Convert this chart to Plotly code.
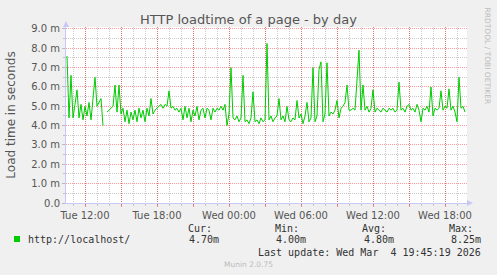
import pandas as pd
import plotly.graph_objects as go

# ---- data (10-minute samples, seconds*1000 shown as "m") ----
start_time = "2026-03-03 10:30"
load_ms = [
    7.6, 4.4, 6.6, 4.4, 5.1, 5.85,
    4.4, 5.1, 4.3, 5.0, 4.5, 5.2,
    4.3, 5.3, 6.5, 5.0, 5.2, 5.4,
    4.0, None, 4.7, 4.8, 4.9, 5.0,
    6.1, 4.7, 6.1, 4.6, 4.9, 4.2,
    4.8, 4.1, 4.7, 4.3, 4.8, 4.2,
    4.9, 4.4, 4.8, 4.2, 4.9, 4.5,
    5.4, 4.6, 4.8, 4.9, 5.0, 5.1,
    4.9, 5.1, 5.0, 5.8, 4.9, 5.0,
    4.8, 4.9, 4.7, 4.9, 4.3, 5.0,
    4.4, 4.9, 4.2, 4.8, 4.5, 5.0,
    4.3, 4.8, 4.9, 4.4, 4.9, 4.8,
    4.3, 4.9, 4.7, 4.9, 4.8, 5.0,
    4.8, 5.1, 4.0, 4.6, 7.0, 4.4,
    4.3, 4.5, 4.2, 4.4, 6.6, 4.2,
    4.3, 4.1, 4.4, 5.75, 4.2, 4.3,
    4.1, 4.4, 4.2, 4.3, 8.25, 4.3,
    4.5, 4.2, 4.4, 4.5, 5.4, 4.3,
    4.5, 4.2, 5.0, 4.3, 4.2, 4.4,
    4.3, 5.3, 4.4, 4.6, 4.1, 4.5,
    5.2, 4.2, 4.4, 7.0, 4.2, 4.5,
    6.9, 7.3, 4.2, 4.6, 7.25, 4.5,
    4.7, 4.6, 4.8, 5.3, 4.4, 4.9,
    5.0, 5.2, 6.1, 4.8, 4.8, 4.9,
    4.8, 6.6, 7.9, 4.8, 6.1, 4.8,
    5.0, 4.7, 4.9, 5.85, 4.7, 4.9,
    4.8, 4.7, 4.9, 4.8, 4.7, 4.9,
    4.8, 4.9, 4.7, 4.8, 6.25, 4.8,
    4.9, 4.7, 5.0, 5.1, 4.8, 4.9,
    4.7, 5.1, 4.8, 4.2, 4.9, 4.8,
    5.0, 4.7, 6.0, 4.5, 4.9, 4.8,
    4.9, 5.8, 4.8, 5.0, 4.9, 5.9,
    4.8, 5.0, 4.7, 4.2, 6.5, 4.9,
    5.0, 4.7,
]
times = pd.date_range(start_time, periods=len(load_ms), freq="10min")

y_tickvals = [0, 1, 2, 3, 4, 5, 6, 7, 8, 9]
y_ticktext = ["0.0", "1.0 m", "2.0 m", "3.0 m", "4.0 m", "5.0 m", "6.0 m", "7.0 m", "8.0 m", "9.0 m"]
x_tickvals = pd.date_range("2026-03-03 12:00", "2026-03-04 18:00", freq="3h")
x_ticktext = [t.strftime("%a %H:%M") if t.hour % 6 == 0 else "" for t in x_tickvals]

series_name = "http://localhost/"
stat_heads = ["Cur:", "Min:", "Avg:", "Max:"]
stat_vals = ["4.70m", "4.00m", "4.80m", "8.25m"]

# ---- layout geometry (pixels) ----
W, H = 497, 275
L, R, T, B = 66, 467, 27, 203


def pxx(x):
    return (x - L) / (R - L)


def pxy(y):
    return (B - y) / (B - T)


GREEN = "#00CC00"
TXT = "#555555"
MONO = "DejaVu Sans Mono"
SANS = "DejaVu Sans"

fig = go.Figure()
fig.add_trace(go.Scatter(x=times, y=load_ms, mode="lines",
                         line=dict(color=GREEN, width=1), connectgaps=False,
                         showlegend=False, hoverinfo="skip"))

fig.update_layout(
    width=W, height=H,
    margin=dict(l=L, r=W - R, t=T, b=H - B),
    paper_bgcolor="#F0F0F0", plot_bgcolor="#FFFFFF",
    font=dict(family=SANS, size=10, color=TXT),
    showlegend=False,
)

fig.update_xaxes(
    range=[pd.Timestamp("2026-03-03 10:25"), pd.Timestamp("2026-03-04 19:50")],
    tickmode="array", tickvals=x_tickvals, ticktext=x_ticktext,
    showgrid=True, gridcolor="rgba(255,0,0,0.4)", griddash="1px,1px", gridwidth=1,
    ticks="outside", ticklen=3, tickcolor="rgba(255,0,0,0.4)",
    minor=dict(tickmode="linear", tick0="2026-03-03 11:00", dtick=3600000,
               showgrid=True, gridcolor="rgba(150,150,150,0.5)", griddash="1px,1px",
               ticks="outside", ticklen=2, tickcolor="rgba(150,150,150,0.5)"),
    showline=True, linecolor="#C8C8F8", linewidth=1,
    zeroline=False, tickfont=dict(size=10, color=TXT),
    ticklabelstandoff=0,
)
fig.update_yaxes(
    range=[0, 9.1],
    tickmode="array", tickvals=y_tickvals, ticktext=y_ticktext,
    showgrid=True, gridcolor="rgba(255,0,0,0.4)", griddash="1px,1px", gridwidth=1,
    ticks="outside", ticklen=3, tickcolor="rgba(150,150,150,0.6)",
    minor=dict(tickmode="linear", tick0=0.5, dtick=1,
               showgrid=True, gridcolor="rgba(150,150,150,0.5)", griddash="1px,1px",
               ticks="outside", ticklen=2, tickcolor="rgba(150,150,150,0.5)"),
    showline=True, linecolor="#C8C8F8", linewidth=1,
    zeroline=False, tickfont=dict(size=10, color=TXT),
    title=dict(text="Load time in seconds", font=dict(size=12, color=TXT), standoff=12),
)

shapes = []
# axis arrows
shapes.append(dict(type="path", xref="paper", yref="paper",
                   path=f"M {pxx(L-3)} {pxy(T)} L {pxx(L+3)} {pxy(T)} L {pxx(L)} {pxy(T-6)} Z",
                   fillcolor="#C8C8F8", line=dict(width=0)))
shapes.append(dict(type="path", xref="paper", yref="paper",
                   path=f"M {pxx(R)} {pxy(B-3)} L {pxx(R)} {pxy(B+3)} L {pxx(R+6)} {pxy(B)} Z",
                   fillcolor="#C8C8F8", line=dict(width=0)))
# legend square
shapes.append(dict(type="rect", xref="paper", yref="paper",
                   x0=pxx(14), x1=pxx(20), y0=pxy(242), y1=pxy(236),
                   fillcolor=GREEN, line=dict(width=0)))
fig.update_layout(shapes=shapes)

ann = []
ann.append(dict(text="HTTP loadtime of a page - by day", x=pxx(248), y=pxy(20),
                xref="paper", yref="paper", xanchor="center", yanchor="middle",
                showarrow=False, font=dict(family=SANS, size=13, color="#555555")))
ann.append(dict(text="RRDTOOL / TOBI OETIKER", x=pxx(487), y=pxy(5),
                xref="paper", yref="paper", xanchor="center", yanchor="top",
                textangle=90, showarrow=False, font=dict(family=SANS, size=7.5, color="#BBBBBB")))
ann.append(dict(text=series_name, x=pxx(26), y=pxy(239), xref="paper", yref="paper",
                xanchor="left", yanchor="middle", showarrow=False,
                font=dict(family=MONO, size=10, color="#333333")))
head_x = [186, 273, 360, 447]
val_right = [221, 308, 396, 483]
for hx, h in zip(head_x, stat_heads):
    ann.append(dict(text=h, x=pxx(hx), y=pxy(228), xref="paper", yref="paper",
                    xanchor="left", yanchor="middle", showarrow=False,
                    font=dict(family=MONO, size=10, color="#333333")))
for vx, v in zip(val_right, stat_vals):
    ann.append(dict(text=v, x=pxx(vx), y=pxy(239), xref="paper", yref="paper",
                    xanchor="right", yanchor="middle", showarrow=False,
                    font=dict(family=MONO, size=10, color="#333333")))
ann.append(dict(text="Last update: Wed Mar&nbsp;&nbsp;4 19:45:19 2026", x=pxx(483), y=pxy(252),
                xref="paper", yref="paper", xanchor="right", yanchor="middle",
                showarrow=False, font=dict(family=MONO, size=10, color="#333333")))
ann.append(dict(text="Munin 2.0.75", x=pxx(248), y=pxy(264), xref="paper", yref="paper",
                xanchor="center", yanchor="middle", showarrow=False,
                font=dict(family=SANS, size=7.5, color="#BBBBBB")))
fig.update_layout(annotations=ann)

fig.write_html("out.html")
